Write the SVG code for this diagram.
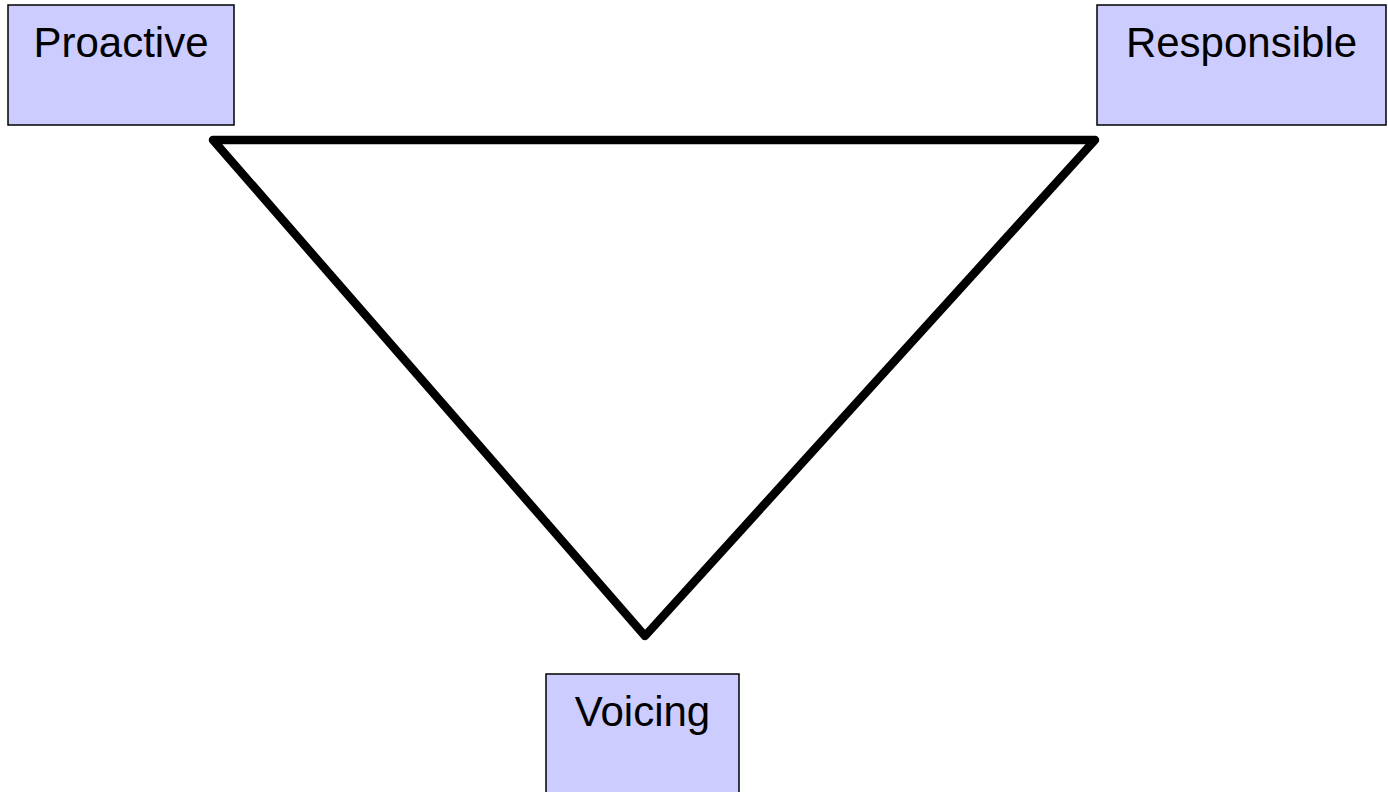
<svg xmlns="http://www.w3.org/2000/svg" width="1388" height="792" viewBox="0 0 1388 792">
<style>
.box{fill:#ccccff;stroke:#000;stroke-width:1.5}
.lbl{font-family:"Liberation Sans",Arial,sans-serif;font-size:42px;fill:#000;text-anchor:middle}
.tri{fill:none;stroke:#000;stroke-width:8.5;stroke-linejoin:round;stroke-linecap:round}
</style>
<rect width="1388" height="792" fill="#fff"/>
<g id="connectors">
<polygon class="tri" points="213,140 1095,140 645,636"/>
</g>
<g id="proactive">
<rect class="box" x="8" y="5" width="226" height="120"/>
<text class="lbl" x="121" y="57">Proactive</text>
</g>
<g id="responsible">
<rect class="box" x="1097" y="5" width="289" height="120"/>
<text class="lbl" x="1241.5" y="57">Responsible</text>
</g>
<g id="voicing">
<rect class="box" x="546" y="674" width="193" height="130"/>
<text class="lbl" x="642.5" y="726">Voicing</text>
</g>
</svg>
